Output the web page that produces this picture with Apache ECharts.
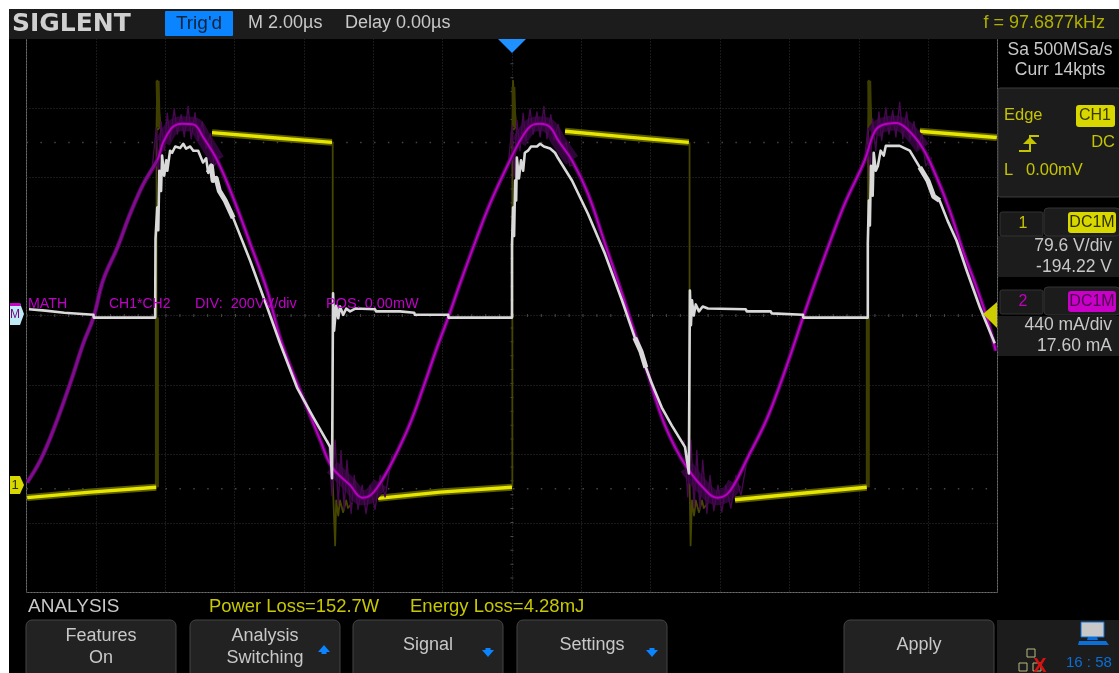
<!DOCTYPE html>
<html><head><meta charset="utf-8">
<style>html,body{margin:0;padding:0;background:#fff;overflow:hidden}
#frame{position:absolute;left:9px;top:9px;width:1110px;height:664px;background:#000}
#c{position:absolute;left:0;top:0;width:1119px;height:673px}</style>
<script src="https://cdn.jsdelivr.net/npm/echarts@6/dist/echarts.min.js"></script>
</head><body><div id="frame"></div><div id="c"></div>
<script>
// time in microseconds (2 us/div), amplitude in divisions
const xRange=[-14,14], yRange=[-4,4];
const magentaTrace=[[-13.98,-2.41],[-13.60,-2.09],[-13.23,-1.66],[-12.74,-0.98],[-12.36,-0.40],[-12.07,-0.03],[-11.79,0.51],[-11.38,0.98],[-11.01,1.47],[-10.63,1.90],[-10.23,2.24],[-10.06,2.50],[-9.83,2.70],[-9.65,2.76],[-9.51,2.77],[-9.19,2.76],[-8.90,2.57],[-8.50,2.24],[-8.04,1.70],[-7.55,1.04],[-7.06,0.36],[-6.69,-0.32],[-6.31,-0.84],[-5.91,-1.33],[-5.53,-1.80],[-5.19,-2.19],[-4.67,-2.45],[-4.32,-2.63],[-4.09,-2.60],[-3.80,-2.42],[-3.43,-2.09],[-2.94,-1.56],[-2.56,-1.04],[-2.16,-0.46],[-1.84,-0.03],[-1.50,0.46],[-1.01,1.13],[-0.63,1.62],[-0.06,2.24],[0.20,2.50],[0.46,2.70],[0.63,2.76],[0.81,2.77],[1.10,2.72],[1.33,2.53],[1.73,2.24],[2.19,1.76],[2.68,1.04],[3.17,0.32],[3.54,-0.26],[3.92,-0.84],[4.32,-1.47],[4.70,-1.90],[5.04,-2.19],[5.50,-2.48],[5.91,-2.63],[6.20,-2.58],[6.43,-2.42],[6.80,-2.05],[7.29,-1.56],[7.67,-1.08],[8.07,-0.51],[8.39,-0.03],[8.73,0.46],[9.22,1.13],[9.60,1.62],[10.17,2.24],[10.43,2.63],[10.63,2.74],[11.07,2.78],[11.38,2.70],[11.84,2.42],[12.25,1.99],[12.62,1.52],[13.00,0.94],[13.40,0.40],[13.69,-0.03],[13.95,-0.51]];
const magentaFuzzPeak1=[[-10.37,2.16],[-10.26,2.70],[-10.20,2.02],[-10.12,2.80],[-10.03,2.38],[-9.94,2.92],[-9.86,2.53],[-9.74,2.98],[-9.65,2.62],[-9.54,2.90],[-9.45,2.58],[-9.34,3.02],[-9.25,2.55],[-9.14,2.93],[-9.05,2.53],[-8.93,2.80],[-8.82,2.41],[-8.70,2.62],[-8.59,2.16],[-8.41,2.30]];
const magentaFuzzPeak2=[[-0.11,2.16],[0.00,2.74],[0.06,2.00],[0.14,2.82],[0.23,2.38],[0.32,2.92],[0.40,2.53],[0.52,2.98],[0.61,2.62],[0.72,2.94],[0.81,2.58],[0.92,3.02],[1.01,2.55],[1.12,2.90],[1.21,2.53],[1.33,2.76],[1.44,2.41],[1.56,2.50],[1.67,2.16],[1.85,2.20]];
const magentaFuzzPeak3=[[10.15,2.16],[10.26,2.70],[10.32,2.02],[10.40,2.84],[10.49,2.38],[10.58,2.94],[10.66,2.53],[10.78,3.00],[10.87,2.62],[10.98,2.96],[11.07,2.58],[11.18,3.08],[11.27,2.55],[11.38,2.94],[11.47,2.53],[11.59,2.80],[11.70,2.41],[11.82,2.62],[11.93,2.16],[12.11,2.28]];
const magentaFuzzTrough1=[[-5.30,-1.80],[-5.19,-2.60],[-5.10,-1.80],[-5.01,-2.74],[-4.93,-1.95],[-4.84,-2.80],[-4.76,-2.09],[-4.64,-2.86],[-4.55,-2.31],[-4.44,-2.80],[-4.32,-2.45],[-4.21,-2.86],[-4.09,-2.45],[-3.95,-2.80],[-3.80,-2.31],[-3.66,-2.62],[-3.46,-2.02]];
const magentaFuzzTrough2=[[4.96,-1.80],[5.07,-2.62],[5.16,-1.80],[5.25,-2.78],[5.33,-1.95],[5.42,-2.80],[5.50,-2.09],[5.62,-2.86],[5.71,-2.31],[5.82,-2.82],[5.94,-2.45],[6.05,-2.84],[6.17,-2.45],[6.31,-2.78],[6.46,-2.31],[6.60,-2.60],[6.80,-2.02]];
const whiteTrace=[[-13.93,0.09],[-13.46,0.07],[-13.43,0.05],[-12.91,0.04],[-12.88,0.03],[-12.07,0.01],[-12.06,-0.03],[-10.29,-0.03],[-10.28,1.11],[-10.23,1.56],[-10.20,1.23],[-10.17,2.09],[-10.12,1.80],[-10.09,2.31],[-10.03,2.02],[-9.97,2.24],[-9.94,2.09],[-9.86,2.38],[-9.80,2.35],[-9.71,2.44],[-9.57,2.42],[-9.48,2.48],[-9.40,2.41],[-9.28,2.44],[-9.19,2.38],[-9.05,2.38],[-8.91,2.21],[-8.82,2.27],[-8.76,2.06],[-8.67,2.16],[-8.62,1.95],[-8.53,1.98],[-8.44,1.80],[-8.27,1.66],[-8.04,1.41],[-7.55,0.79],[-7.06,0.12],[-6.69,-0.40],[-6.20,-1.04],[-5.73,-1.47],[-5.24,-1.90],[-5.19,-2.35],[-5.16,0.32],[-5.13,-0.22],[-5.07,0.14],[-5.01,-0.04],[-4.96,0.13],[-4.87,0.01],[-4.78,0.10],[-4.67,0.06],[-4.52,0.10],[-3.95,0.09],[-3.92,0.06],[-3.23,0.06],[-2.82,0.04],[-2.80,0.01],[-1.84,0.01],[-1.83,-0.03],[0,-0.03],[0.0,1.01],[0.03,1.56],[0.06,1.15],[0.09,1.95],[0.12,1.66],[0.14,2.28],[0.20,1.98],[0.26,2.24],[0.32,2.09],[0.37,2.35],[0.46,2.38],[0.55,2.44],[0.72,2.44],[0.81,2.48],[0.92,2.44],[1.10,2.41],[1.24,2.35],[1.33,2.27],[1.73,1.95],[2.19,1.47],[2.68,0.89],[3.17,0.22],[3.54,-0.32],[3.72,-0.52],[3.86,-0.75],[4.03,-0.98],[4.32,-1.33],[4.61,-1.59],[4.99,-1.90],[5.10,-2.28],[5.13,0.36],[5.16,-0.14],[5.19,0.22],[5.24,0],[5.30,0.16],[5.39,0.06],[5.50,0.13],[5.65,0.10],[6.74,0.09],[6.77,0.06],[7.46,0.06],[7.49,0.03],[8.39,0.01],[8.40,-0.03],[10.26,-0.03],[10.26,1.04],[10.29,1.66],[10.32,1.30],[10.35,2.16],[10.40,1.73],[10.43,2.35],[10.49,2.09],[10.55,2.16],[10.63,2.38],[10.72,2.31],[10.78,2.45],[10.95,2.45],[11.18,2.45],[11.47,2.38],[11.76,2.14],[11.99,1.95],[12.16,1.72],[12.33,1.66],[12.56,1.37],[12.82,1.08],[13.11,0.65],[13.49,0.12],[13.92,-0.40]];
const yellowHigh1=[[-8.65,2.64],[-6.97,2.57],[-5.19,2.50]];
const yellowHigh2=[[1.53,2.66],[3.26,2.58],[5.10,2.50]];
const yellowHigh3=[[11.76,2.66],[13.98,2.57]];
const yellowLow1=[[-13.98,-2.63],[-12.16,-2.55],[-10.26,-2.48]];
const yellowLow2=[[-3.86,-2.64],[-2.07,-2.55],[0,-2.48]];
const yellowLow3=[[6.43,-2.66],[8.30,-2.57],[10.23,-2.48]];
const yellowEdgeUp1=[[-10.25,-2.48],[-10.25,2.71],[-10.23,3.39],[-10.20,3.10],[-10.14,2.73],[-10.22,2.68]];
const yellowEdgeUp2=[[0.01,-2.48],[0.01,2.71],[0.03,3.39],[0.06,3.10],[0.12,2.73],[0.04,2.68]];
const yellowEdgeUp3=[[10.27,-2.48],[10.27,2.71],[10.29,3.39],[10.32,3.10],[10.38,2.73],[10.30,2.68]];
const yellowEdgeDown1=[[-5.17,2.50],[-5.17,-2.38],[-5.10,-3.32],[-5.07,-2.67],[-5.01,-2.89],[-4.96,-2.67],[-4.87,-2.84],[-4.78,-2.67],[-4.73,-2.78],[-4.61,-2.71]];
const yellowEdgeDown2=[[5.12,2.50],[5.12,-2.38],[5.15,-3.32],[5.19,-2.67],[5.25,-2.89],[5.30,-2.67],[5.39,-2.84],[5.48,-2.67],[5.53,-2.78],[5.65,-2.71]];
const yellowEdgeThick1=[[-10.24,-2.48],[-10.24,-0.03]];
const yellowEdgeThick3=[[10.26,-2.48],[10.26,-0.03]];
const yellowSpike1=[[-10.22,3.39],[-10.19,2.72]];
const yellowSpike2=[[0.04,3.30],[0.07,2.72]];
const yellowSpike3=[[10.30,3.39],[10.33,2.72]];
const centerH=[[-14,0],[14,0]], centerV=[[0,-4],[0,4]];
const levelHigh=[[-14,2.5],[14,2.5]], levelLow=[[-14,-2.5],[14,-2.5]];

const chart=echarts.init(document.getElementById('c'),null,{renderer:'canvas'});
const F='"Liberation Sans",Arial,sans-serif';
function line(data,color,width,z,smooth,type){return {type:'line',data,symbol:'none',silent:true,animation:false,z,smooth:smooth||false,
  clip:true,lineStyle:{color,width,type:type||'solid',join:'round'}};}
const joined=(...a)=>a.reduce((o,s,i)=>o.concat(i?[[null,null]]:[],s),[]);
const win=(a,b)=>magentaTrace.filter(p=>p[0]>=a&&p[0]<=b);
const wwin=(a,b)=>whiteTrace.filter(p=>p[0]>=a&&p[0]<=b);
const yellowMain=joined(yellowHigh1,yellowHigh2,yellowHigh3,yellowLow1,yellowLow2,yellowLow3);
const yellowEdges=joined(yellowEdgeUp1,yellowEdgeUp2,yellowEdgeUp3,yellowEdgeDown1,yellowEdgeDown2);
const yellowThick=joined(yellowEdgeThick1,yellowEdgeThick3,yellowSpike1,yellowSpike2,yellowSpike3);
const fuzz=joined(magentaFuzzPeak1,magentaFuzzPeak2,magentaFuzzPeak3,magentaFuzzTrough1,magentaFuzzTrough2);
const blob=joined(win(-10.1,-8.5),win(0.2,1.73),win(10.4,11.84),win(-5.2,-3.8),win(5.04,6.43));
const firstRise=win(-14,-10.2);
const whiteThick=joined(wwin(-8.8,-8.0),wwin(3.54,3.9),wwin(11.76,12.4));

function T(x,y,text,fill,size,align,extra,z){return {type:'text',z:z||50,silent:true,style:Object.assign({x,y,text,fill,font:(size||18)+'px '+F,align:align||'left',verticalAlign:'middle'},extra||{})};}
function R(x,y,w,h,fill,stroke,r){return {type:'rect',z:40,silent:true,shape:{x,y,width:w,height:h,r:r||0},style:{fill,stroke:stroke||null,lineWidth:stroke?1:0}};}
function P(points,fill,z){return {type:'polygon',z:z||45,silent:true,shape:{points},style:{fill}};}
function B(x,label,label2){const o=[R(x,620,150,60,'#222222','#454545',6)];const c=x+75;
  if(label2){o.push(T(c,636,label,'#c8c8c8',18,'center'),T(c,658,label2,'#c8c8c8',18,'center'));}else{o.push(T(c,645,label,'#c8c8c8',18,'center'));}return o;}
const up=(x,y)=>P([[x-6,y+3],[x,y-4],[x+6,y+3],[x+2.5,y+3],[x+2.5,y+5],[x-2.5,y+5],[x-2.5,y+3]],'#0a84ff');
const down=(x,y)=>P([[x-6,y-3],[x-2.5,y-3],[x-2.5,y-5],[x+2.5,y-5],[x+2.5,y-3],[x+6,y-3],[x,y+4]],'#0a84ff');
const yel='#c4c400', grey='#c8c8c8';
const elements=[
 R(9,9,1110,30,'#1c1c1c'),
 T(12,24,'SIGLENT','#d0d0d0',25,'left',{font:'bold 25px "DejaVu Sans",'+F}),
 R(165,11,68,25,'#0a84ff',null,1),
 T(199,24,"Trig'd",'#10243a',19,'center'),
 T(248,23,'M 2.00\u00b5s',grey,18),
 T(345,23,'Delay 0.00\u00b5s',grey,18),
 T(1105,23,'f = 97.6877kHz','#b0b000',18,'right'),
 P([[498,39],[526,39],[512,53]],'#1e90ff'),
 T(1060,50,'Sa 500MSa/s',grey,17.5,'center'),
 T(1060,70,'Curr 14kpts',grey,17.5,'center'),
 R(998,88,122,109,'#1c1c1c','#3c3c3c',2),
 T(1004,115,'Edge',yel,16.5),
 R(1076,105,39,22,'#d8d800',null,3),
 T(1095,116,'CH1','#3a3a00',16,'center'),
 T(1115,142,'DC',yel,16.5,'right'),
 T(1004,170,'L',yel,16.5),
 T(1026,170,'0.00mV',yel,16.5),
 P([[1019,150],[1029,150],[1029,135],[1039,135],[1039,137],[1031,137],[1031,152],[1019,152]],yel),
 P([[1023,144],[1030,137],[1037,144]],yel),
 R(998,236,122,41,'#1c1c1c'),
 R(1000,212,43,24,'#1a1a1a','#333333',2),
 R(1044,208,76,28,'#1c1c1c','#333333',4),
 T(1023,224,'1',yel,16,'center'),
 R(1068,212,48,21,'#d8d800',null,3),
 T(1092,223,'DC1M','#2e2e00',16,'center'),
 T(1112,246,'79.6 V/div',grey,17.5,'right'),
 T(1112,267,'-194.22 V',grey,17.5,'right'),
 R(998,316,122,40,'#1c1c1c'),
 R(1000,290,43,24,'#1a1a1a','#333333',2),
 R(1044,287,76,28,'#1c1c1c','#333333',4),
 T(1023,302,'2','#c000c0',16,'center'),
 R(1068,291,48,21,'#c800c8',null,3),
 T(1092,302,'DC1M','#4a004a',16,'center'),
 T(1112,325,'440 mA/div',grey,17.5,'right'),
 T(1112,346,'17.60 mA',grey,17.5,'right'),
 P([[983,314],[997,302],[997,328]],'#cccc00',60),
 P([[10,303],[20,303],[24,314],[20,325],[10,325]],'#bfeaf5',60),
 P([[10,303],[20,303],[21,306],[10,306]],'#c800c8',61),
 T(15,315,'M','#7a007a',12,'center',{font:'12px '+F},62),
 P([[10,476],[20,476],[24,485],[20,494],[10,494]],'#d8d800',60),
 T(15,485,'1','#2e2e00',13,'center',null,62),
 T(28,304,'MATH','#c000c8',14.2),
 T(109,304,'CH1*CH2','#c000c8',14),
 T(195,304,'DIV:  200VV/div','#c000c8',14.5),
 T(326,304,'POS: 0.00mW','#c000c8',14.5),
 T(28,607,'ANALYSIS',grey,19),
 T(209,607,'Power Loss=152.7W','#c8c800',18.4),
 T(410,607,'Energy Loss=4.28mJ','#c8c800',18.5),
 ...B(26,'Features','On'),...B(190,'Analysis','Switching'),...B(353,'Signal'),...B(517,'Settings'),...B(844,'Apply'),
 up(324,649),down(488,653),down(652,653),
 R(997,620,122,53,'#1c1c1c'),
 R(1081,622,23,15,'#c8c8c8','#0a6fd8'),
 P([[1088,637],[1097,637],[1098,640],[1087,640]],'#0a6fd8'),
 P([[1079,641],[1106,641],[1109,645],[1078,645]],'#0a6fd8'),
 T(1066,663,'16 : 58','#0a6fd8',15),
 R(1027,649,8,8,null,'#b8b880'),
 R(1019,663,8,8,null,'#b8b880'),
 R(1033,663,8,8,null,'#b8b880'),
 T(1040,666,'X','#d81010',20,'center',{font:'bold 20px '+F})
];

chart.setOption({
 animation:false,
 backgroundColor:'transparent',
 grid:{left:26.5,top:38.5,width:971,height:554,show:true,borderColor:'#6e6e6e',borderWidth:1,backgroundColor:'transparent'},
 xAxis:{type:'value',min:xRange[0],max:xRange[1],interval:2,axisLine:{show:false},axisTick:{show:false},axisLabel:{show:false},
   splitLine:{show:true,lineStyle:{color:'#333333',type:[1,2],width:1}}},
 yAxis:{type:'value',min:yRange[0],max:yRange[1],interval:1,axisLine:{show:false},axisTick:{show:false},axisLabel:{show:false},
   splitLine:{show:true,lineStyle:{color:'#333333',type:[1,2],width:1}}},
 series:[
  line(levelHigh,'#454545',1.5,1,false,[1.5,12.4]),
  line(levelLow,'#454545',1.5,1,false,[1.5,12.4]),
  line(centerH,'#4a4a4a',3,1,false,[1,12.9]),
  line(centerV,'#4a4a4a',3,1,false,[1,12.9]),
  line(yellowEdges,'#464600',1.8,2),
  line(yellowThick,'#3e3e00',4,2),
  line(yellowMain,'#5c5c00',7,3),
  line(yellowMain,'#e6e600',3.4,4),
  line(blob,'#2f0638',15,5,0.4),
  line(fuzz,'#46094f',1.4,5),
  line(magentaTrace,'#4e0658',4.5,6,0.4),
  line(magentaTrace,'#b800c0',2,7,0.4),
  line(firstRise,'#7f0c8c',2.6,7,0.4),
  line(whiteTrace,'#d9d9d9',2.6,8),
  line(whiteThick,'#d9d9d9',5,8)
 ],
 graphic:{elements}
});
</script></body></html>
